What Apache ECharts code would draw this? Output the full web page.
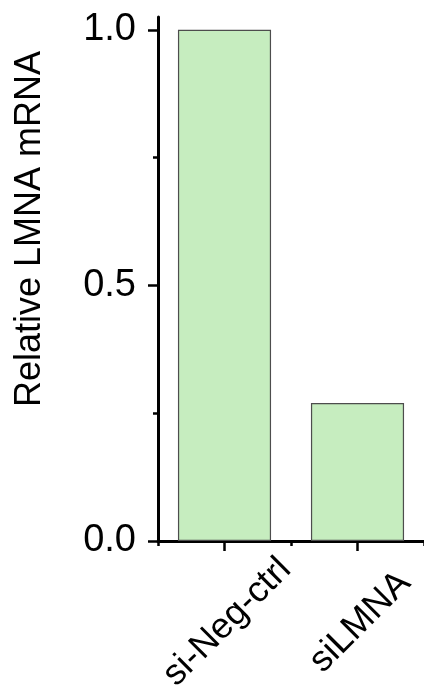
<!DOCTYPE html>
<html>
<head>
<meta charset="utf-8">
<style>
  html, body { margin: 0; padding: 0; background: #ffffff; }
  #chart { width: 424px; height: 691px; }
</style>
<script src="https://cdn.jsdelivr.net/npm/echarts@6/dist/echarts.min.js"></script>
</head>
<body>
<div id="chart"></div>
<script>
// Relative LMNA mRNA after knockdown
const categories = ['si-Neg-ctrl', 'siLMNA'];
const relativeExpression = [1.0, 0.27];
const majorTicks = [0, 0.5, 1.0];
const minorTicks = [0.25, 0.75];
const yTitle = 'Relative LMNA mRNA';

const FONT = '"Liberation Sans", Arial, Helvetica, sans-serif';
const chart = echarts.init(document.getElementById('chart'), null, { renderer: 'canvas' });

chart.setOption({
  animation: false,
  backgroundColor: '#ffffff',
  grid: { left: 158, right: 0, top: 17, bottom: 150, containLabel: false, outerBoundsMode: 'none' },
  xAxis: [
    {
      type: 'category',
      data: categories,
      position: 'bottom',
      offset: 0,
      boundaryGap: true,
      axisLine: { show: true, lineStyle: { color: '#000', width: 3 } },
      axisTick: { show: true, alignWithLabel: true, inside: false, length: 10, lineStyle: { color: '#000', width: 2.5 } },
      axisLabel: {
        rotate: 45,
        margin: 84,
        align: 'center',
        verticalAlign: 'middle',
        fontFamily: FONT,
        fontSize: 36,
        color: '#000',
        padding: [0, 0, 0, 8]
      },
      splitLine: { show: false }
    },
    {
      // short ticks on the category boundaries
      type: 'category',
      data: categories,
      position: 'bottom',
      offset: 0,
      boundaryGap: true,
      axisLine: { show: false },
      axisTick: { show: true, alignWithLabel: false, length: 5, lineStyle: { color: '#000', width: 2.5 } },
      axisLabel: { show: false },
      splitLine: { show: false }
    }
  ],
  yAxis: [
    {
      type: 'value',
      min: 0,
      max: 1.025,
      interval: 0.25,
      position: 'left',
      offset: 0,
      name: yTitle,
      nameLocation: 'middle',
      nameGap: 110,
      nameRotate: 90,
      nameTextStyle: { fontFamily: FONT, fontSize: 36, color: '#000', padding: [0, 0, 0, 100] },
      axisLine: { show: true, lineStyle: { color: '#000', width: 3 } },
      axisTick: { show: true, customValues: majorTicks, length: 10, lineStyle: { color: '#000', width: 2.5 } },
      axisLabel: {
        customValues: majorTicks,
        formatter: v => v.toFixed(1),
        margin: 22,
        fontFamily: FONT,
        fontSize: 38,
        color: '#000'
      },
      splitLine: { show: false }
    },
    {
      // shorter intermediate ticks
      type: 'value',
      min: 0,
      max: 1.025,
      interval: 0.25,
      position: 'left',
      offset: 0,
      axisLine: { show: false },
      axisTick: { show: true, customValues: minorTicks, length: 5, lineStyle: { color: '#000', width: 2.5 } },
      axisLabel: { show: false },
      splitLine: { show: false }
    }
  ],
  series: [
    {
      type: 'bar',
      xAxisIndex: 0,
      yAxisIndex: 0,
      data: relativeExpression,
      barWidth: '70%',
      itemStyle: { color: '#c6edbf', borderColor: '#4d4d4d', borderWidth: 1.2 }
    }
  ]
});
</script>
</body>
</html>
